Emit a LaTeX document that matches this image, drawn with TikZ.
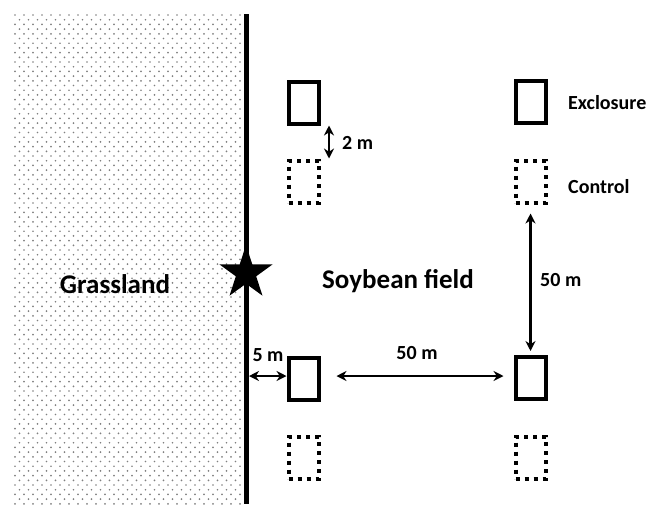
\documentclass[tikz,border=0pt]{standalone}
\usepackage{fontspec}
\setmainfont{Carlito}
\usetikzlibrary{arrows.meta,shapes.geometric}
\begin{document}
\begin{tikzpicture}[x=1pt,y=-1pt,
  plot/.style={draw,line width=4pt,minimum width=30pt,minimum height=42pt,inner sep=0pt},
  exclosure/.style={plot},
  control/.style={plot,dash pattern=on 4pt off 5pt},
  dimarrow/.style={line width=2.5pt,{Stealth[length=10pt,width=10pt]}-{Stealth[length=10pt,width=10pt]}},
  small/.style={font=\fontsize{20}{24}\selectfont\bfseries,inner sep=0pt},
  big/.style={font=\fontsize{27}{32}\selectfont\bfseries,inner sep=0pt}]
\useasboundingbox (0,0) rectangle (653,504);
% grassland dots
\begin{scope}
\clip (14,14) rectangle (243,504);
\foreach \k in {0,...,52}{
  \foreach \j in {0,...,25}{
    \fill[gray] ({15+9*\j},{15+9.4*\k}) circle (0.95pt);
    \fill[gray] ({19.5+9*\j},{19.7+9.4*\k}) circle (0.95pt);
  }
}
\end{scope}
% boundary
\draw[line width=5pt] (246,14) -- (246,504);
\node[star,star points=5,star point ratio=2.618,fill=black,minimum size=56pt,inner sep=0pt] (star) at (246,273) {};
% plots
\node[exclosure] (e1) at (303.5,102.5) {};
\node[control]   (c1) at (303.5,181.5) {};
\node[exclosure] (e2) at (530.5,101.5) {};
\node[control]   (c2) at (530.5,181.5) {};
\node[exclosure] (e3) at (303.5,379) {};
\node[exclosure] (e4) at (530.5,378) {};
\node[control]   (c3) at (303.5,457.5) {};
\node[control]   (c4) at (530.5,457.5) {};
% texts
\node[big] (grass) at (115,284) {Grassland};
\node[big] (soy) at (398,281) {Soybean field};
\node[small,anchor=west] (lex) at (568,103) {Exclosure};
\node[small,anchor=west] (lco) at (568,187) {Control};
% dimensions
\draw[dimarrow] ([xshift=25.5pt]e1.south) -- ([xshift=25.5pt]c1.north);
\node[small,anchor=west] (l2) at (342,143) {2 m};
\draw[dimarrow,shorten <=9pt,shorten >=4pt] (c2.south) -- (e4.north);
\node[small,anchor=west] (l50v) at (540,280) {50 m};
\coordinate (edge) at (249,376);
\draw[dimarrow] (edge) -- (edge -| e3.west);
\node[small] (l5) at (268,355) {5 m};
\draw[dimarrow,shorten <=16pt,shorten >=10pt] (e3.east |- edge) -- (e4.west |- edge);
\node[small] (l50h) at (417,353) {50 m};
\end{tikzpicture}
\end{document}
